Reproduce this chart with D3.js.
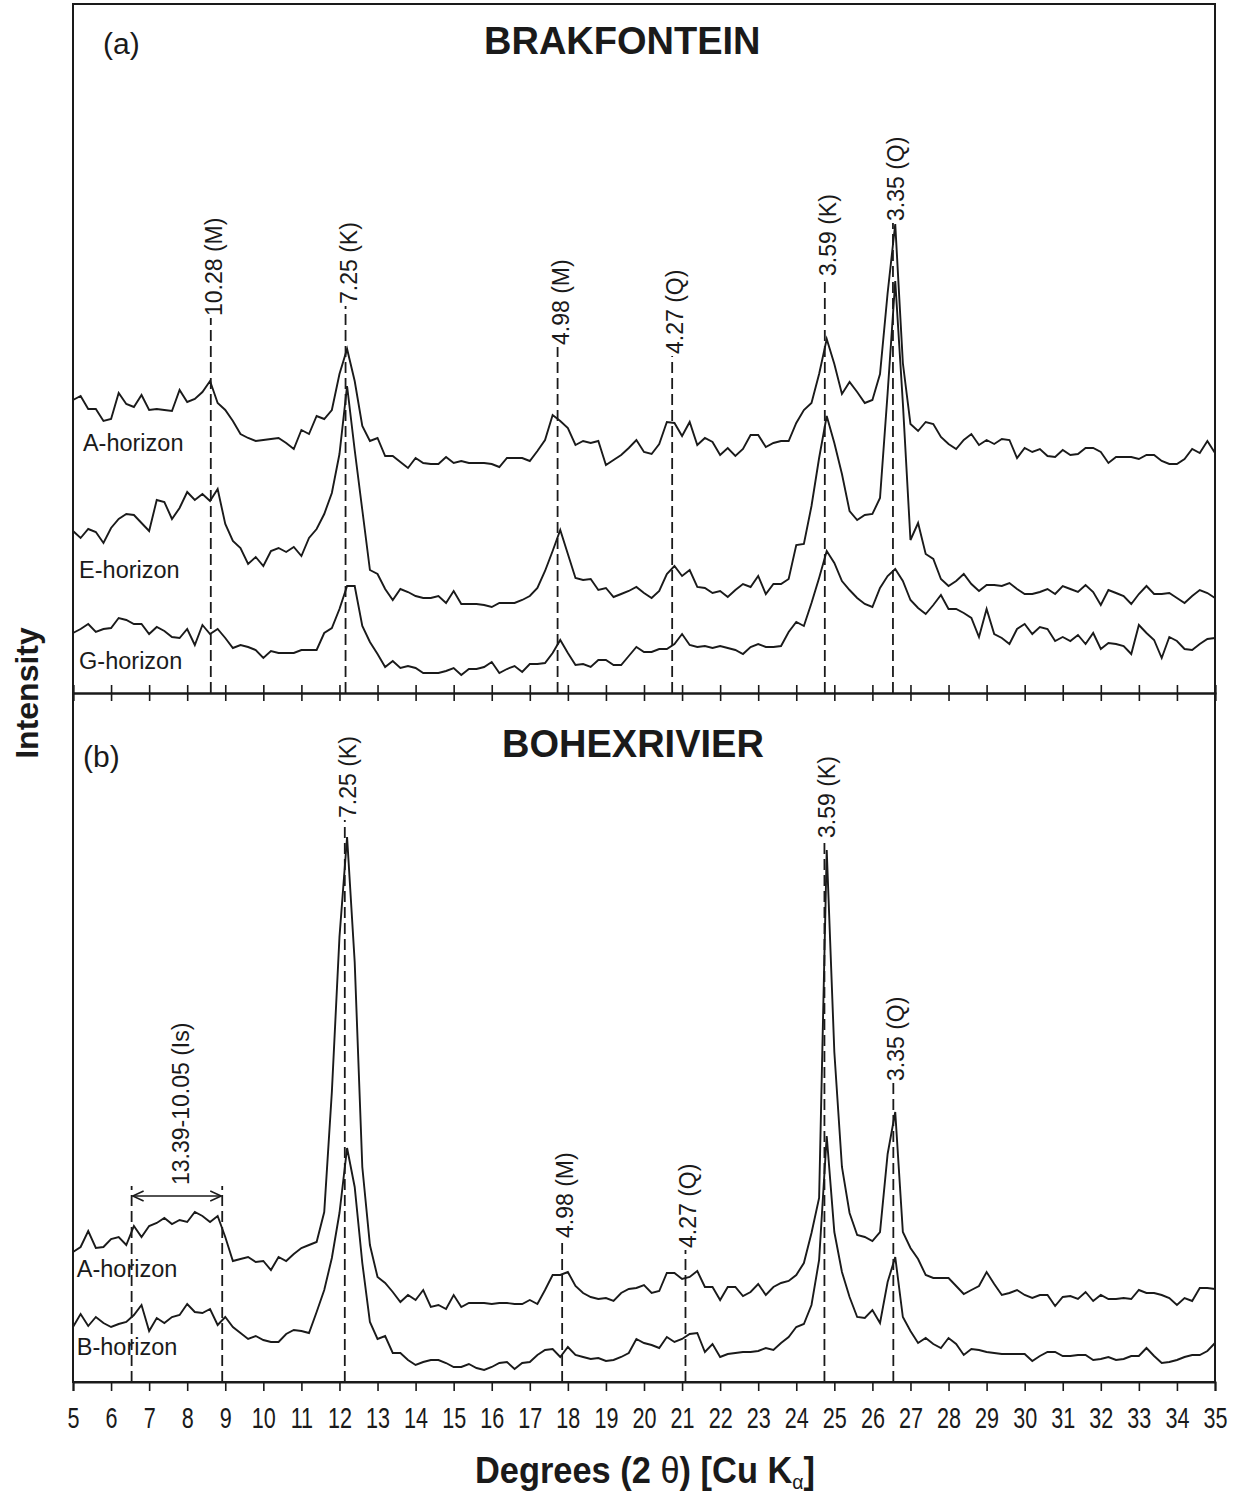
<!DOCTYPE html>
<html>
<head>
<meta charset="utf-8">
<script src="https://cdn.jsdelivr.net/npm/d3@7"></script>
<style>
  body { margin: 0; background: #fff; }
  svg { display: block; font-family: "Liberation Sans", Arial, sans-serif; }
</style>
</head>
<body>
<svg id="chart" width="1240" height="1496"></svg>
<script>
// ---- Diffractogram data: counts sampled every 0.2 deg 2-theta, 5 to 35 ----
const thetaStart = 5;
const thetaStep = 0.2;
const degreeTicks = [5, 6, 7, 8, 9, 10, 11, 12, 13, 14, 15, 16, 17, 18, 19, 20,
  21, 22, 23, 24, 25, 26, 27, 28, 29, 30, 31, 32, 33, 34, 35];

// Brakfontein profile (stacked intensity, arbitrary units)
const brakA = [293,297,284,284,272,274,300,289,286,298, 283,284,283,282,303,291,294,301,312,290,
  283,272,259,255,252,253,254,255,250,244, 263,259,277,274,283,319,344,312,267,252,
  255,237,237,231,225,235,230,229,229,236, 230,232,230,230,230,229,226,235,235,235,
  232,242,253,278,272,265,248,252,250,252, 228,233,238,245,253,241,239,249,271,270,
  257,271,248,255,251,238,245,237,244,258, 258,246,250,252,252,270,283,290,319,354,
  329,299,311,301,290,293,319,400,469,330, 269,262,271,269,256,249,244,253,259,248,
  253,249,254,253,235,245,241,244,237,236, 243,238,239,245,245,241,230,236,236,236,
  234,238,238,232,229,229,234,244,240,252, 240];
const brakE = [162,155,164,161,150,165,174,179,178,170, 162,193,191,174,185,201,193,199,192,204,
  169,152,145,129,136,127,142,145,141,146, 137,155,164,179,200,239,307,243,183,123,
  119,104,93,104,101,97,95,95,97,90, 102,89,89,89,88,86,90,90,90,93,
  97,105,122,142,163,139,115,113,114,103, 105,96,99,102,106,100,95,102,119,127,
  117,123,106,105,100,102,96,103,109,106, 117,99,109,109,114,148,149,187,235,277,
  250,219,182,173,178,179,195,300,412,290, 153,170,139,134,114,107,112,119,109,102,
  108,108,107,110,104,99,99,101,104,99, 107,104,101,108,101,88,103,100,97,89,
  99,107,99,99,100,95,90,97,103,100, 95];
const brakG = [60,64,69,61,64,65,75,73,69,69, 59,66,62,56,55,64,48,68,59,64,
  55,45,48,46,43,35,42,40,40,40, 43,43,43,60,65,84,107,107,67,51,
  39,26,32,25,27,25,20,20,20,22, 25,18,24,24,26,31,20,24,27,21,
  29,29,30,40,53,40,28,29,26,33, 33,28,28,37,46,41,41,44,44,49,
  59,48,46,47,45,47,45,43,39,46, 49,46,46,47,61,71,67,90,115,142,
  130,112,103,95,89,86,105,117,124,112, 93,85,79,88,98,84,84,80,75,56,
  84,59,55,49,64,69,59,66,64,52, 56,52,58,49,60,44,50,49,47,39,
  68,60,53,35,56,52,44,43,49,54, 55];

// Bohexrivier profile
const bohA = [130,135,151,134,135,143,145,137,156,145, 156,159,164,158,162,160,170,166,160,166,
  145,121,123,125,120,121,112,125,121,128, 134,137,140,170,290,445,545,420,215,137,
  105,99,90,80,87,82,92,75,77,73, 87,75,79,79,79,78,79,79,78,78,
  82,78,92,107,107,110,96,89,85,83, 84,81,89,93,94,97,89,91,109,109,
  103,105,111,95,95,82,95,95,86,90, 98,87,95,99,101,107,119,149,184,532,
  330,215,169,147,145,141,150,228,270,150, 134,123,107,104,104,104,96,88,92,96,
  110,98,87,89,92,87,84,87,87,76, 85,86,83,90,81,87,83,83,84,83,
  92,89,89,87,84,77,84,81,94,94, 93];
const bohB = [55,68,56,65,59,55,58,60,67,77, 51,64,59,65,67,78,70,69,73,57,
  65,55,49,43,46,42,40,40,48,52, 51,49,70,92,124,169,234,195,119,60,
  43,46,29,29,22,17,20,22,22,19, 15,15,18,14,12,15,19,20,13,19,
  20,27,32,33,25,35,27,25,23,24, 21,22,25,29,43,39,37,34,45,40,
  43,48,49,30,38,25,28,29,30,30, 31,34,32,39,45,55,58,77,122,246,
  150,110,85,65,64,72,59,100,125,65, 51,39,44,38,34,44,38,27,33,32,
  30,29,28,28,28,28,21,26,30,30, 26,26,27,27,22,23,25,22,23,26,
  26,34,26,19,20,22,25,27,27,31, 39];

// Reflections: d-spacing label (Angstrom, mineral), 2-theta position, marker height
const brakPeaks = [
  { label: "10.28 (M)", theta: 8.62,  level: 375 },
  { label: "7.25 (K)",  theta: 12.16, level: 387 },
  { label: "4.98 (M)",  theta: 17.73, level: 346 },
  { label: "4.27 (Q)",  theta: 20.74, level: 337 },
  { label: "3.59 (K)",  theta: 24.75, level: 415 },
  { label: "3.35 (Q)",  theta: 26.54, level: 470 }
];
const bohPeaks = [
  { label: "7.25 (K)",  theta: 12.14, level: 562 },
  { label: "4.98 (M)",  theta: 17.85, level: 142 },
  { label: "4.27 (Q)",  theta: 21.09, level: 132 },
  { label: "3.59 (K)",  theta: 24.74, level: 542 },
  { label: "3.35 (Q)",  theta: 26.55, level: 299 }
];
// Interstratified range marked by a double arrow
const bohRange = { label: "13.39-10.05 (Is)", from: 6.54, to: 8.92, level: 196, arrowLevel: 186 };

const horizonNames = {
  brak: ["A-horizon", "E-horizon", "G-horizon"],
  boh: ["A-horizon", "B-horizon"]
};

// ---- Layout ----
const frame = { left: 73, right: 1215, top: 4, mid: 693, bottom: 1382 };
const svg = d3.select("#chart");
const ink = "#1a1a1a";

const x = d3.scaleLinear().domain([5, 35]).range([frame.left, frame.right]);
const yTop = d3.scaleLinear().domain([0, 689]).range([frame.mid, frame.top]);
const yBot = d3.scaleLinear().domain([0, 689]).range([frame.bottom, frame.mid]);

const thetaAt = i => thetaStart + i * thetaStep;

function drawTraces(y, seriesList) {
  const line = d3.line().x((v, i) => x(thetaAt(i))).y(v => y(v));
  svg.append("g").selectAll("path").data(seriesList).join("path")
    .attr("d", d => line(d))
    .attr("fill", "none")
    .attr("stroke", ink)
    .attr("stroke-width", 1.9)
    .attr("stroke-linejoin", "miter");
}

function drawPeaks(y, peaks) {
  const g = svg.append("g");
  g.selectAll("line").data(peaks).join("line")
    .attr("x1", d => x(d.theta)).attr("x2", d => x(d.theta))
    .attr("y1", y(0)).attr("y2", d => y(d.level))
    .attr("stroke", ink).attr("stroke-width", 1.8)
    .attr("stroke-dasharray", "11,5");
  g.selectAll("text").data(peaks).join("text")
    .attr("transform", d => `translate(${x(d.theta) + 3},${y(d.level) - 2}) rotate(-90)`)
    .attr("dominant-baseline", "central")
    .attr("font-size", 23)
    .attr("fill", ink)
    .text(d => d.label);
}

function horizonLabels(y, names, spots) {
  svg.append("g").selectAll("text").data(names).join("text")
    .attr("x", (d, i) => x(spots[i][0]))
    .attr("y", (d, i) => y(spots[i][1]))
    .attr("font-size", 23.5)
    .attr("fill", ink)
    .text(d => d);
}

// ---- Panel (a) ----
drawTraces(yTop, [brakA, brakE, brakG]);
drawPeaks(yTop, brakPeaks);
horizonLabels(yTop, horizonNames.brak, [[5.26, 242], [5.16, 115], [5.16, 24]]);

// ---- Panel (b) ----
drawTraces(yBot, [bohA, bohB]);
drawPeaks(yBot, bohPeaks);
horizonLabels(yBot, horizonNames.boh, [[5.1, 105], [5.1, 27]]);

// interstratified range: two dashed guides, double arrow and label
const rg = svg.append("g");
[bohRange.from, bohRange.to].forEach(t => {
  rg.append("line")
    .attr("x1", x(t)).attr("x2", x(t))
    .attr("y1", yBot(0)).attr("y2", yBot(bohRange.level))
    .attr("stroke", ink).attr("stroke-width", 1.8)
    .attr("stroke-dasharray", "11,5");
});
const defs = svg.append("defs");
defs.append("marker")
  .attr("id", "arrowHead")
  .attr("viewBox", "0 -6 12 12")
  .attr("refX", 11).attr("refY", 0)
  .attr("markerWidth", 12).attr("markerHeight", 12)
  .attr("markerUnits", "userSpaceOnUse")
  .attr("orient", "auto-start-reverse")
  .append("path")
  .attr("d", "M0,-5L11,0L0,5")
  .attr("fill", "none").attr("stroke", ink).attr("stroke-width", 1.6);
rg.append("line")
  .attr("x1", x(bohRange.from) + 1).attr("x2", x(bohRange.to) - 1)
  .attr("y1", yBot(bohRange.arrowLevel)).attr("y2", yBot(bohRange.arrowLevel))
  .attr("stroke", ink).attr("stroke-width", 1.6)
  .attr("marker-start", "url(#arrowHead)")
  .attr("marker-end", "url(#arrowHead)");
rg.append("text")
  .attr("transform", `translate(${(x(bohRange.from) + x(bohRange.to)) / 2 + 4},${yBot(bohRange.level) - 1}) rotate(-90)`)
  .attr("dominant-baseline", "central")
  .attr("font-size", 23)
  .attr("fill", ink)
  .text(bohRange.label);

// ---- Frame, divider and axes ----
svg.append("rect")
  .attr("x", frame.left).attr("y", frame.top)
  .attr("width", frame.right - frame.left).attr("height", frame.bottom - frame.top)
  .attr("fill", "none").attr("stroke", ink).attr("stroke-width", 2);

// divider between the panels carries ticks on both sides
const midUp = svg.append("g").attr("transform", `translate(0,${frame.mid})`)
  .call(d3.axisTop(x).tickValues(degreeTicks).tickSize(8).tickFormat(""));
const midDown = svg.append("g").attr("transform", `translate(0,${frame.mid})`)
  .call(d3.axisBottom(x).tickValues(degreeTicks).tickSize(8).tickFormat(""));
[midUp, midDown].forEach(g => {
  g.select(".domain").attr("stroke", ink).attr("stroke-width", 2);
  g.selectAll(".tick line").attr("stroke", ink).attr("stroke-width", 1.6);
});

const bottomAxis = svg.append("g").attr("transform", `translate(0,${frame.bottom})`)
  .call(d3.axisBottom(x).tickValues(degreeTicks).tickSize(9).tickPadding(16).tickFormat(d3.format("d")));
bottomAxis.select(".domain").attr("stroke", ink).attr("stroke-width", 2);
bottomAxis.selectAll(".tick line").attr("stroke", ink).attr("stroke-width", 1.6);
bottomAxis.selectAll(".tick text")
  .attr("font-family", "'Liberation Sans', Arial, sans-serif")
  .attr("font-size", 30)
  .attr("fill", ink)
  .attr("transform", "scale(0.72,1)");

// ---- Titles ----
svg.append("text").attr("x", 484).attr("y", 54)
  .attr("font-size", 38).attr("font-weight", "bold").attr("fill", ink)
  .text("BRAKFONTEIN");
svg.append("text").attr("x", 502).attr("y", 757)
  .attr("font-size", 38).attr("font-weight", "bold").attr("fill", ink)
  .text("BOHEXRIVIER");
svg.append("text").attr("x", 103).attr("y", 54)
  .attr("font-size", 30).attr("fill", ink).text("(a)");
svg.append("text").attr("x", 83).attr("y", 767)
  .attr("font-size", 30).attr("fill", ink).text("(b)");

// axis titles
svg.append("text")
  .attr("transform", `translate(38,${frame.mid}) rotate(-90)`)
  .attr("text-anchor", "middle")
  .attr("font-size", 32).attr("font-weight", "bold").attr("fill", ink)
  .text("Intensity");

const xTitle = svg.append("text")
  .attr("transform", `translate(645,1483) scale(0.93,1)`)
  .attr("text-anchor", "middle")
  .attr("font-size", 37).attr("font-weight", "bold").attr("fill", ink);
xTitle.append("tspan").text("Degrees (2 ");
xTitle.append("tspan").attr("font-weight", "normal").text("θ");
xTitle.append("tspan").text(") [Cu K");
xTitle.append("tspan").attr("font-size", 21).attr("font-weight", "normal").attr("dy", 6).text("α");
xTitle.append("tspan").attr("dy", -6).text("]");
</script>
</body>
</html>
